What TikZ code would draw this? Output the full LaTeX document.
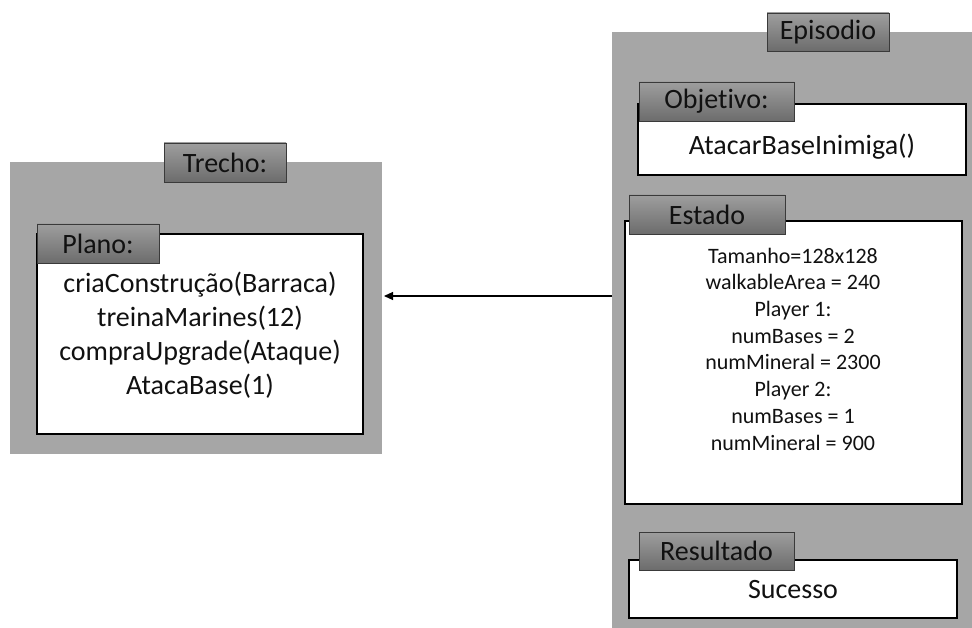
\documentclass[tikz,border=0pt]{standalone}
\usepackage{fontspec}
\setmainfont{Carlito}[Ligatures=NoCommon]
\usetikzlibrary{arrows.meta}
\definecolor{panel}{HTML}{A6A6A6}
\definecolor{tabtop}{HTML}{9E9E9E}
\definecolor{tabbot}{HTML}{6C6C6C}
\definecolor{tabedge}{HTML}{3A3A3A}
\definecolor{ink}{HTML}{111111}
\begin{document}
\begin{tikzpicture}[x=1pt,y=-1pt,
  panelbox/.style={fill=panel, draw=none, anchor=north west, inner sep=0pt, outer sep=0pt},
  whitebox/.style={fill=white, draw=black, line width=1.8pt, anchor=north west, inner sep=0pt, outer sep=0pt},
  tabbox/.style={top color=tabtop, bottom color=tabbot, draw=tabedge, line width=0.8pt,
    anchor=north west, inner sep=0pt, outer sep=0pt, text=ink, font=\fontsize{28}{34}\selectfont},
  bigtext/.style={font=\fontsize{28}{34}\selectfont, align=center, inner sep=0pt, text=ink},
  smalltext/.style={font=\fontsize{22}{26.7}\selectfont, align=center, inner sep=0pt, text=ink},
  link/.style={line width=1.1pt, -{Triangle[length=9pt,width=8pt]}},
]
\useasboundingbox (0,0) rectangle (972,628);

% ---- Trecho panel ----
\node[panelbox, minimum width=372pt, minimum height=292pt] (trecho) at (10,162) {};
\node[whitebox, minimum width=326pt, minimum height=200pt] (plano) at (37,234) {};
\node[tabbox, minimum width=122pt, minimum height=39pt] (trechotab) at (164,143) {Trecho:};
\node[tabbox, minimum width=122pt, minimum height=39pt] (planotab) at (37,224) {Plano:};
\node[bigtext] (planotext) at (200,335) {criaConstrução(Barraca)\\treinaMarines(12)\\compraUpgrade(Ataque)\\AtacaBase(1)};

% ---- Episodio panel ----
\node[panelbox, minimum width=360pt, minimum height=596pt] (episodio) at (612,32) {};
\node[tabbox, minimum width=122pt, minimum height=38pt] (episodiotab) at (767,13) {Episodio};

\node[whitebox, minimum width=328pt, minimum height=71pt] (objetivo) at (638,104) {};
\node[tabbox, minimum width=155pt, minimum height=39pt] (objetivotab) at (639,82) {Objetivo:};
\node[bigtext] (objetivotext) at (802,147) {AtacarBaseInimiga()};

\node[whitebox, minimum width=337pt, minimum height=283pt] (estado) at (625,221) {};
\node[tabbox, minimum width=156pt, minimum height=39pt] (estadotab) at (629,195) {Estado};
\node[smalltext] (estadotext) at (793,349) {Tamanho=128x128\\walkableArea = 240\\Player 1:\\numBases = 2\\numMineral = 2300\\Player 2:\\numBases = 1\\numMineral = 900};

\node[whitebox, minimum width=328pt, minimum height=58pt] (resultado) at (629,560) {};
\node[tabbox, minimum width=155pt, minimum height=38pt] (resultadotab) at (639,532) {Resultado};
\node[bigtext] (resultadotext) at (793,590) {Sucesso};

% ---- connector ----
\coordinate (linkend) at (384,296);
\draw[link] (episodio.west |- linkend) -- (linkend);
\end{tikzpicture}
\end{document}
